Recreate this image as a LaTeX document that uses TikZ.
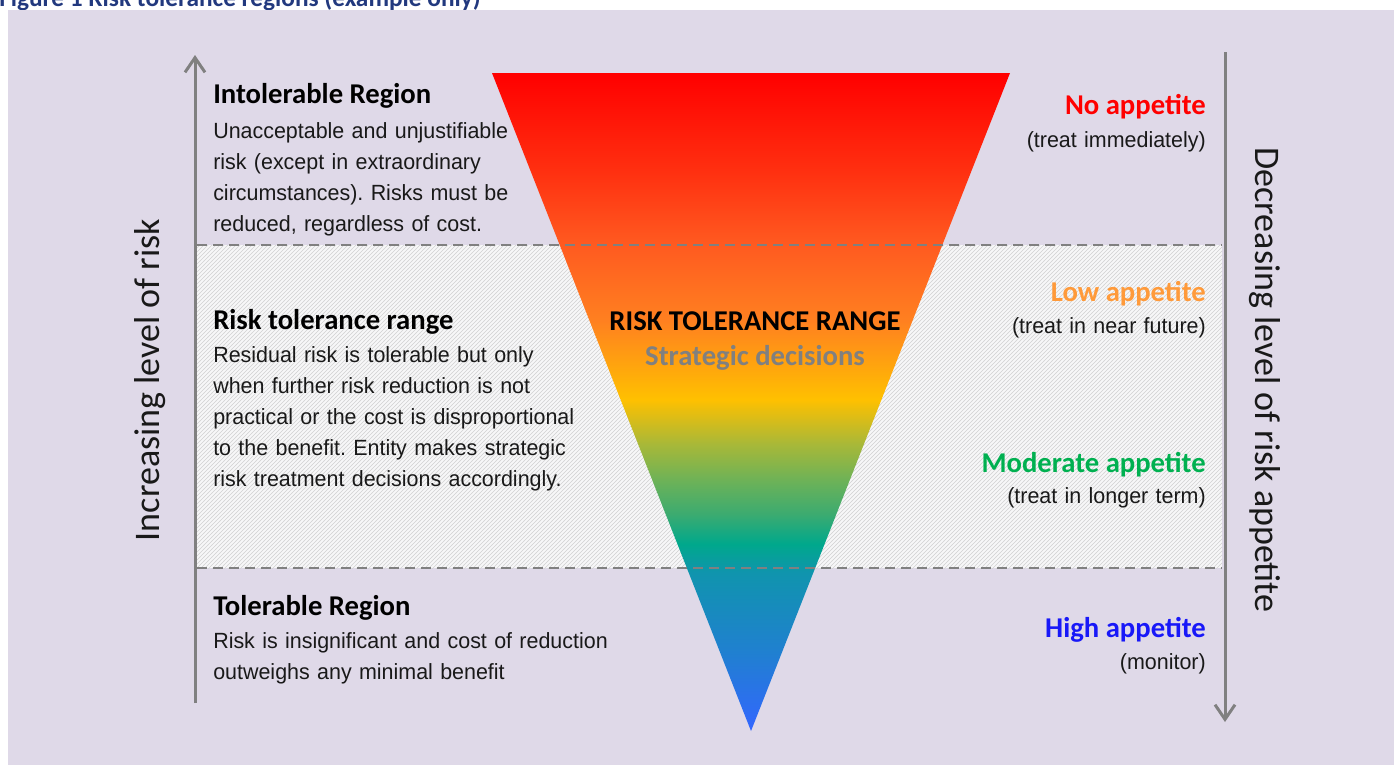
\documentclass[tikz,border=0pt]{standalone}
\usepackage{fontspec}
\setmainfont{Liberation Sans}[WordSpace=0.7,FakeStretch=0.975]
\newfontfamily\calibri{Carlito}
\usetikzlibrary{arrows.meta,patterns}
\frenchspacing
\definecolor{lav}{HTML}{DFD9E8}
\definecolor{band}{HTML}{F7F7F8}
\definecolor{axisgray}{HTML}{808080}
\definecolor{capblue}{HTML}{22397E}
\definecolor{noapp}{HTML}{FF0000}
\definecolor{lowapp}{HTML}{FF9A3A}
\definecolor{modapp}{HTML}{00B050}
\definecolor{highapp}{HTML}{1818F8}
\definecolor{g0}{HTML}{3366FF}
\definecolor{g1}{HTML}{2080D0}
\definecolor{g2}{HTML}{1094AE}
\definecolor{g3}{HTML}{00A88C}
\definecolor{g4}{HTML}{3CAB70}
\definecolor{g5}{HTML}{6CB258}
\definecolor{g6}{HTML}{A8B838}
\definecolor{g7}{HTML}{FFC000}
\definecolor{g8}{HTML}{FF8020}
\definecolor{g9}{HTML}{FF5A20}
\definecolor{g10}{HTML}{FF3010}
\definecolor{g11}{HTML}{FF0000}
\pgfdeclareverticalshading{riskgrad}{100bp}{color(0bp)=(g0); color(25bp)=(g0); color(31bp)=(g1); color(37bp)=(g2); color(39.2bp)=(g3); color(41.5bp)=(g4); color(44bp)=(g5); color(46.8bp)=(g6); color(50.2bp)=(g7); color(56.2bp)=(g8); color(62bp)=(g9); color(67.5bp)=(g10); color(75bp)=(g11); color(100bp)=(g11)}
\tikzset{
  hdr/.style={font=\calibri\bfseries\fontsize{21.5}{26}\selectfont, inner sep=0pt},
  body/.style={font=\fontsize{16.5}{23.25}\selectfont, inner sep=0pt, align=left, text width=420pt, text=black!90},
  bodyR/.style={font=\fontsize{16.5}{23.25}\selectfont, inner sep=0pt, align=right, text width=200pt, text=black!90},
  sidelabel/.style={font=\calibri\fontsize{27}{32}\selectfont, inner sep=0pt, text=black!90},
  axisarrow/.style={draw=axisgray, line width=2.25pt, -{Straight Barb[length=11pt,width=15pt,line width=2.25pt]}},
  divider/.style={draw=axisgray, line width=1.6pt, dash pattern=on 7.5pt off 4.5pt},
}
\begin{document}
\begin{tikzpicture}[x=0.75pt,y=-0.75pt]
\useasboundingbox (0,0) rectangle (1394,765);
% caption (cut off at the top, as in the source)
\node[font=\calibri\bfseries\fontsize{19}{23}\selectfont, text=capblue, inner sep=0pt, anchor=base west] (caption) at (-1,6) {Figure 1 Risk tolerance regions (example only)};
% panel
\fill[lav] (8,10) rectangle (1394,765);
% tolerance band
\fill[band] (197,245) rectangle (1222,568);
\fill[pattern=north east lines, pattern color=black!18] (197,245) rectangle (1222,568);
% funnel
\shade[shading=riskgrad] (492,73) -- (1010,73) -- (751,731) -- cycle;
% dividers
\coordinate (d1a) at (197,245); \coordinate (d1b) at (1222,245);
\coordinate (d2a) at (197,568); \coordinate (d2b) at (1222,568);
\draw[divider] (d1a) -- (d1b);
\draw[divider] (d2a) -- (d2b);
% axes
\coordinate (la) at (195,703); \coordinate (lb) at (195,55);
\coordinate (ra) at (1225,52); \coordinate (rb) at (1225,722);
\draw[axisarrow] (la) -- (lb);
\draw[axisarrow] (ra) -- (rb);
% side labels
\node[sidelabel, rotate=90] (inc) at (150,380) {Increasing level of risk};
\node[sidelabel, rotate=-90] (dec) at (1265,380) {Decreasing level of risk appetite};
% left column
\node[hdr, anchor=base west] (intolH) at (213,103) {Intolerable Region};
\node[body, anchor=base west] (intolB) at (213,138) {Unacceptable and unjustifiable\\risk (except in extraordinary\\circumstances). Risks must be\\reduced, regardless of cost.};
\node[hdr, anchor=base west] (rtrH) at (213,329) {Risk tolerance range};
\node[body, anchor=base west] (rtrB) at (213,362) {Residual risk is tolerable but only\\when further risk reduction is not\\practical or the cost is disproportional\\to the benefit. Entity makes strategic\\risk treatment decisions accordingly.};
\node[hdr, anchor=base west] (tolH) at (213,615) {Tolerable Region};
\node[body, anchor=base west] (tolB) at (213,648) {Risk is insignificant and cost of reduction\\outweighs any minimal benefit};
% centre
\node[hdr, anchor=base, text=black] (rtrC) at (755,330) {RISK TOLERANCE RANGE};
\node[hdr, anchor=base, text=axisgray] (strat) at (755,365) {Strategic decisions};
% right column
\node[hdr, anchor=base east, text=noapp] (noA) at (1206,114) {No appetite};
\node[bodyR, anchor=base east] (noB) at (1206,147) {(treat immediately)};
\node[hdr, anchor=base east, text=lowapp] (lowA) at (1206,301) {Low appetite};
\node[bodyR, anchor=base east] (lowB) at (1206,333) {(treat in near future)};
\node[hdr, anchor=base east, text=modapp] (modA) at (1206,472) {Moderate appetite};
\node[bodyR, anchor=base east] (modB) at (1206,503) {(treat in longer term)};
\node[hdr, anchor=base east, text=highapp] (highA) at (1206,637) {High appetite};
\node[bodyR, anchor=base east] (highB) at (1206,669) {(monitor)};
\end{tikzpicture}
\end{document}
